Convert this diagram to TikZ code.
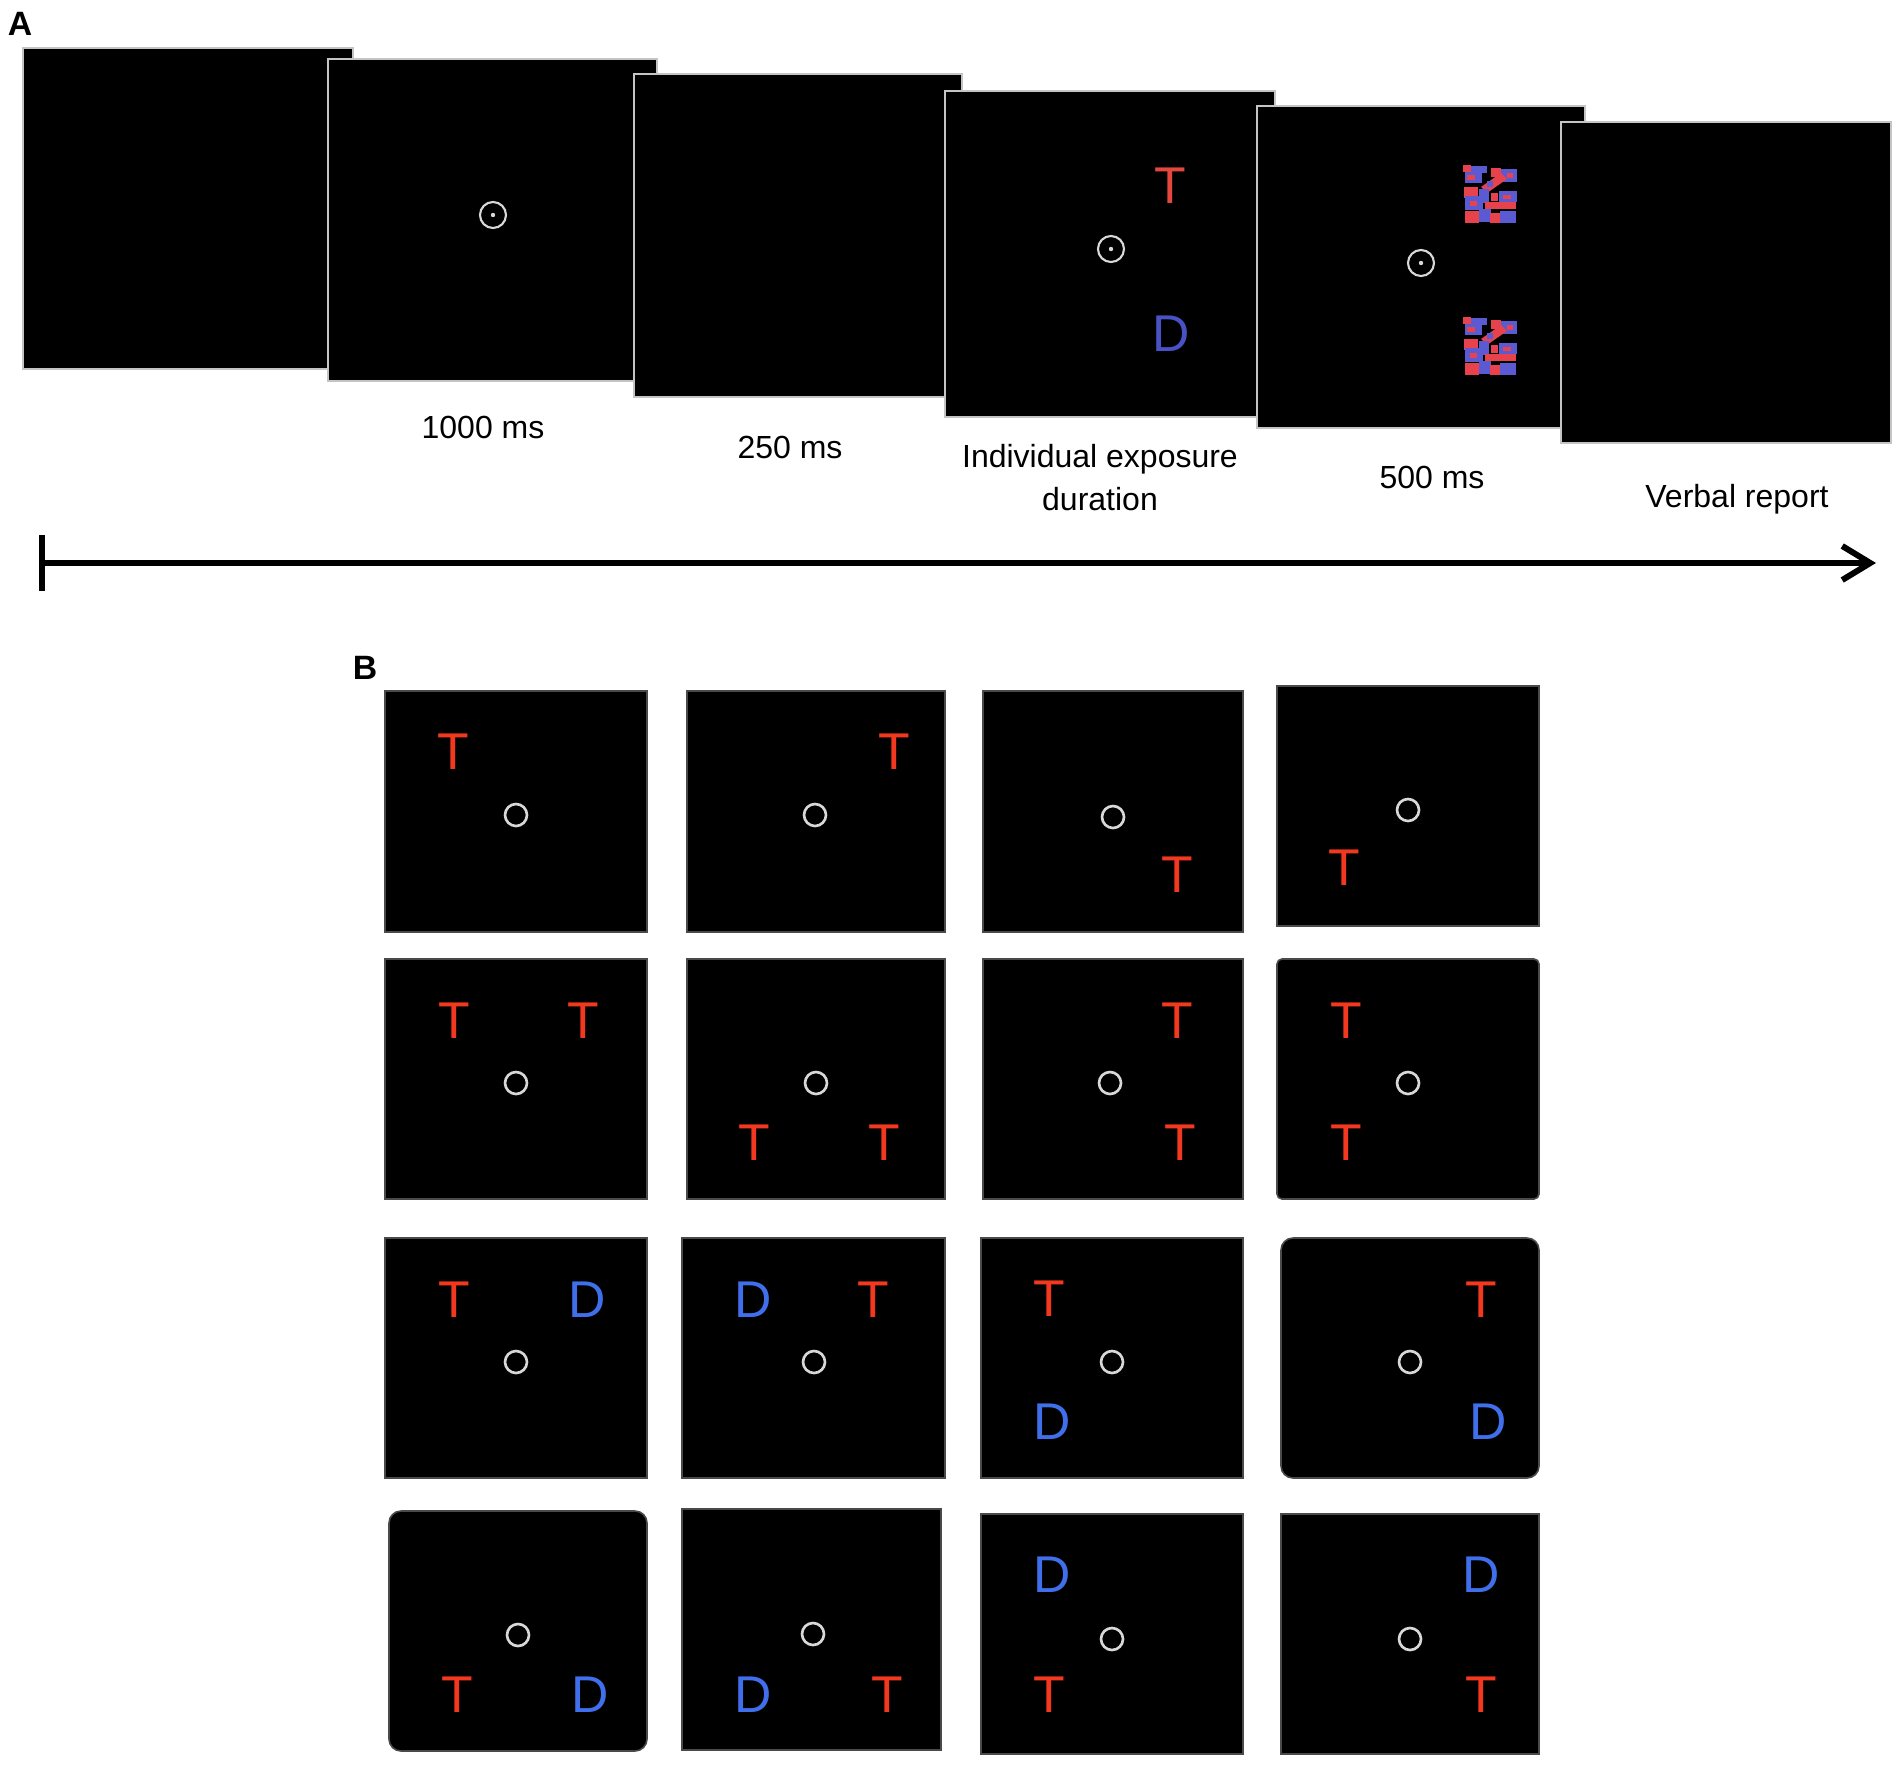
\documentclass[tikz,border=0pt]{standalone}
\usepackage{fontspec}
\setmainfont{Liberation Sans}
\usetikzlibrary{arrows.meta}
\definecolor{tred}{HTML}{F2381F}
\definecolor{dblue}{HTML}{3F6FEA}
\definecolor{atred}{HTML}{E5473E}
\definecolor{adblue}{HTML}{4852C4}
\definecolor{mred}{HTML}{E8434C}
\definecolor{mblue}{HTML}{5A5AD2}
\definecolor{fixgray}{HTML}{D8D8D8}
\definecolor{framegrayA}{HTML}{C4C4C4}
\definecolor{framegrayB}{HTML}{4A4A4A}
\tikzset{
  frameA/.style={fill=black, draw=framegrayA, line width=0.6pt},
  frameB/.style={fill=black, draw=framegrayB, line width=0.45pt},
  fixA/.style={draw=fixgray, line width=0.6pt},
  fixB/.style={draw=fixgray, line width=0.75pt},
  letter/.style={inner sep=0pt, font=\fontsize{14.7}{14.7}\selectfont},
  tlet/.style={letter, text=tred},
  dlet/.style={letter, text=dblue},
  caption/.style={inner sep=0pt, anchor=base, font=\fontsize{9.1}{12.2}\selectfont},
  panel/.style={inner sep=0pt, font=\bfseries\fontsize{9.6}{9.6}\selectfont},
  timeline/.style={line width=1.7pt, line cap=round, {Bar[width=0.55cm]}-{Straight Barb[length=0.28cm,width=0.34cm]}},
}
\newcommand{\maskpattern}[2]{%
  \begin{scope}[shift={(#1,#2)}]
    \fill[mblue] (2,6) rectangle (19,18);
    \fill[mblue] (8,1) rectangle (24,8);
    \fill[mred] (0,0) rectangle (8,7);
    \fill[mred] (4,10) rectangle (12,15);
    \fill[mred] (28,3) rectangle (38,12);
    \fill[mblue] (38,4) rectangle (54,17);
    \fill[mred] (44,8) rectangle (50,13);
    \fill[mred] (18,22) -- (38,8) -- (44,14) -- (24,28) -- cycle;
    \fill[mblue] (16,24) rectangle (26,38);
    \fill[mred] (1,22) rectangle (15,33);
    \fill[mblue] (2,31) rectangle (20,45);
    \fill[mred] (7,36) rectangle (14,41);
    \fill[mblue] (36,26) rectangle (54,37);
    \fill[mred] (40,30) rectangle (48,34);
    \fill[mred] (22,37) rectangle (53,44);
    \fill[mblue] (16,44) rectangle (28,57);
    \fill[mred] (2,46) rectangle (16,58);
    \fill[mred] (27,48) rectangle (38,58);
    \fill[mblue] (37,46) rectangle (53,58);
    \fill[mred] (28,28) rectangle (35,36);
    \fill[mblue] (24,16) rectangle (30,22);
  \end{scope}}
\begin{document}
\begin{tikzpicture}[x=0.01cm, y=-0.01cm]
\path[use as bounding box] (0,0) rectangle (1902,1766);

% ---------------- Panel A ----------------
\node[panel] (labA) at (20,24) {A};

% frame 1
\draw[frameA] (23,48) rectangle (353,369);
% frame 2
\draw[frameA] (328,59) rectangle (657,381);
\draw[fixA] (493,215) circle[radius=13];
\fill[fixgray] (493,215) circle[radius=2.2];
% frame 3
\draw[frameA] (634,74) rectangle (962,397);
% frame 4
\draw[frameA] (945,91) rectangle (1275,417);
\draw[fixA] (1111,249) circle[radius=13];
\fill[fixgray] (1111,249) circle[radius=2.2];
\node[letter, text=atred] (aT) at (1170,186) {T};
\node[letter, text=adblue] (aD) at (1171,334) {D};
% frame 5
\draw[frameA] (1257,106) rectangle (1585,428);
\draw[fixA] (1421,263) circle[radius=13];
\fill[fixgray] (1421,263) circle[radius=2.2];
\maskpattern{1463}{165}
\maskpattern{1463}{317}
% frame 6
\draw[frameA] (1561,122) rectangle (1891,443);

% captions
\node[caption] (cap1) at (483,438) {1000 ms};
\node[caption] (cap2) at (790,458) {250 ms};
\node[caption] (cap3a) at (1100,467) {Individual exposure};
\node[caption] (cap3b) at (1100,510) {duration};
\node[caption] (cap4) at (1432,488) {500 ms};
\node[caption] (cap5) at (1737,507) {Verbal report};

% timeline
\coordinate (tstart) at (39,563);
\coordinate (tend) at (1876,563);
\draw[timeline] (tstart) -- (tend);

% ---------------- Panel B ----------------
\node[panel] (labB) at (365,668) {B};

% row 1
\draw[frameB] (385,691) rectangle (647,932);
\node[tlet] (t11) at (453,752) {T};
\draw[fixB] (516,815) circle[radius=11];

\draw[frameB] (687,691) rectangle (945,932);
\node[tlet] (t12) at (894,752) {T};
\draw[fixB] (815,815) circle[radius=11];

\draw[frameB] (983,691) rectangle (1243,932);
\node[tlet] (t13) at (1177,875) {T};
\draw[fixB] (1113,817) circle[radius=11];

\draw[frameB] (1277,686) rectangle (1539,926);
\node[tlet] (t14) at (1344,868) {T};
\draw[fixB] (1408,810) circle[radius=11];

% row 2
\draw[frameB] (385,959) rectangle (647,1199);
\node[tlet] (t21a) at (454,1021) {T};
\node[tlet] (t21b) at (583,1021) {T};
\draw[fixB] (516,1083) circle[radius=11];

\draw[frameB] (687,959) rectangle (945,1199);
\node[tlet] (t22a) at (754,1143) {T};
\node[tlet] (t22b) at (884,1143) {T};
\draw[fixB] (816,1083) circle[radius=11];

\draw[frameB] (983,959) rectangle (1243,1199);
\node[tlet] (t23a) at (1177,1021) {T};
\node[tlet] (t23b) at (1180,1143) {T};
\draw[fixB] (1110,1083) circle[radius=11];

\draw[frameB, rounded corners=0.05cm] (1277,959) rectangle (1539,1199);
\node[tlet] (t24a) at (1346,1021) {T};
\node[tlet] (t24b) at (1346,1143) {T};
\draw[fixB] (1408,1083) circle[radius=11];

% row 3
\draw[frameB] (385,1238) rectangle (647,1478);
\node[tlet] (t31) at (454,1300) {T};
\node[dlet] (d31) at (587,1300) {D};
\draw[fixB] (516,1362) circle[radius=11];

\draw[frameB] (682,1238) rectangle (945,1478);
\node[dlet] (d32) at (753,1300) {D};
\node[tlet] (t32) at (873,1300) {T};
\draw[fixB] (814,1362) circle[radius=11];

\draw[frameB] (981,1238) rectangle (1243,1478);
\node[tlet] (t33) at (1049,1299) {T};
\node[dlet] (d33) at (1052,1422) {D};
\draw[fixB] (1112,1362) circle[radius=11];

\draw[frameB, rounded corners=0.12cm] (1281,1238) rectangle (1539,1478);
\node[tlet] (t34) at (1481,1300) {T};
\node[dlet] (d34) at (1488,1422) {D};
\draw[fixB] (1410,1362) circle[radius=11];

% row 4
\draw[frameB, rounded corners=0.12cm] (389,1511) rectangle (647,1751);
\node[tlet] (t41) at (457,1695) {T};
\node[dlet] (d41) at (590,1695) {D};
\draw[fixB] (518,1635) circle[radius=11];

\draw[frameB] (682,1509) rectangle (941,1750);
\node[dlet] (d42) at (753,1695) {D};
\node[tlet] (t42) at (887,1695) {T};
\draw[fixB] (813,1634) circle[radius=11];

\draw[frameB] (981,1514) rectangle (1243,1754);
\node[dlet] (d43) at (1052,1575) {D};
\node[tlet] (t43) at (1049,1695) {T};
\draw[fixB] (1112,1639) circle[radius=11];

\draw[frameB] (1281,1514) rectangle (1539,1754);
\node[dlet] (d44) at (1481,1575) {D};
\node[tlet] (t44) at (1481,1695) {T};
\draw[fixB] (1410,1639) circle[radius=11];
\end{tikzpicture}
\end{document}
